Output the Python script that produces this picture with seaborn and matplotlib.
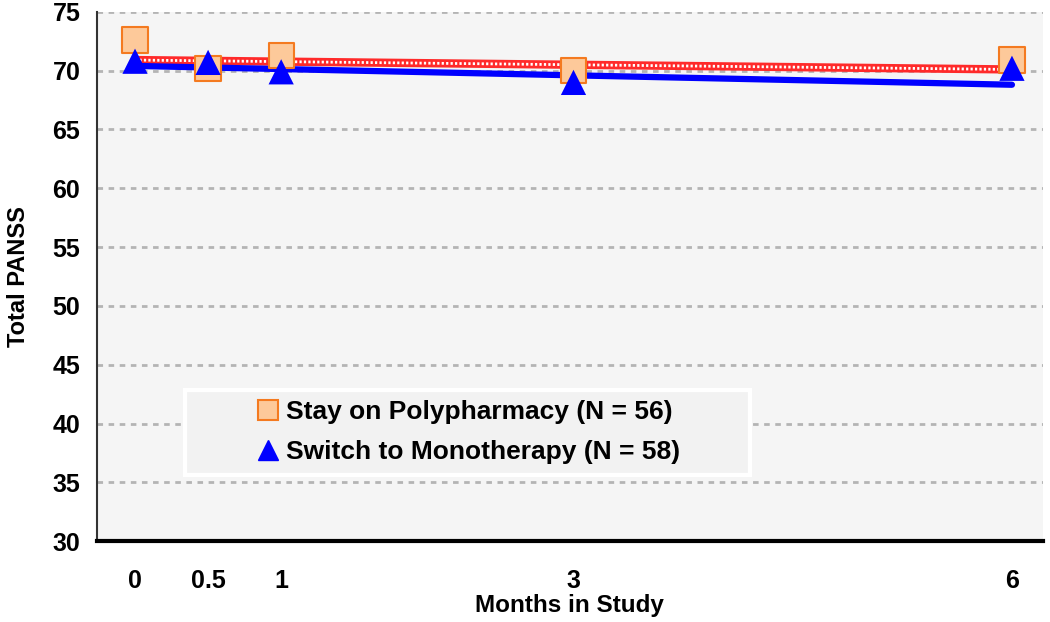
import pandas as pd
import matplotlib.pyplot as plt
from matplotlib.patches import Rectangle
import seaborn as sns

# =============================
# DATA
# =============================
months = [0, 0.5, 1, 3, 6]
poly_panss = [72.6, 70.2, 71.3, 70.0, 70.9]
mono_panss = [70.8, 70.7, 69.9, 69.0, 70.2]

fit_months = [0, 6]
poly_fit = [70.9, 70.1]
mono_fit = [70.4, 68.8]

poly_label = "Stay on Polypharmacy (N = 56)"
mono_label = "Switch to Monotherapy (N = 58)"

df_pts = pd.DataFrame({
    "month": months * 2,
    "panss": poly_panss + mono_panss,
    "group": [poly_label] * len(months) + [mono_label] * len(months),
})
df_poly_fit = pd.DataFrame({"month": fit_months, "panss": poly_fit})
df_mono_fit = pd.DataFrame({"month": fit_months, "panss": mono_fit})

sns.set_style("white")
plt.rcParams["font.family"] = ["Liberation Sans", "DejaVu Sans"]
plt.rcParams["font.weight"] = "bold"
plt.rcParams["text.color"] = "black"
plt.rcParams["axes.labelcolor"] = "black"
plt.rcParams["xtick.color"] = "black"
plt.rcParams["ytick.color"] = "black"

fig = plt.figure(figsize=(10.5, 6.22), dpi=100)
ax = fig.add_axes([0.0924, 0.130, 0.9006, 0.851])
ax.set_facecolor("#f5f5f5")

# gridlines
for y in range(35, 80, 5):
    ax.axhline(y, color="#b4b4b4", lw=2, ls=(0, (2, 2)), zorder=1)

# fit lines
sns.lineplot(data=df_poly_fit, x="month", y="panss", ax=ax, color="#ff2a2a",
             lw=6, zorder=2, legend=False)
sns.lineplot(data=df_poly_fit, x="month", y="panss", ax=ax, color="white",
             lw=2, ls=(0, (0.8, 0.8)), zorder=2.1, legend=False)
sns.lineplot(data=df_mono_fit, x="month", y="panss", ax=ax, color="#0000ff",
             lw=4.5, zorder=2.2, legend=False, solid_capstyle="round")

# markers
sns.scatterplot(data=df_pts, x="month", y="panss", hue="group", style="group",
                palette={poly_label: "#fdc99a", mono_label: "#0000ff"},
                markers={poly_label: "s", mono_label: "^"},
                s=330, ax=ax, zorder=3, legend=False)
# orange outline for squares, no outline for triangles
coll = ax.collections[-1]
edges = ["#f47a20"] * len(months) + ["#0000ff"] * len(months)
coll.set_edgecolors(edges)
coll.set_linewidths([1.5] * len(months) + [0] * len(months))

ax.set_xlim(-0.26, 6.21)
ax.set_ylim(30, 75)
ax.set_xticks(months)
ax.set_xticklabels(["0", "0.5", "1", "3", "6"])
ax.set_yticks(range(30, 80, 5))
ax.tick_params(axis="both", labelsize=18, length=0)
ax.tick_params(axis="x", pad=20)
ax.tick_params(axis="y", pad=12)
for lab in ax.get_xticklabels() + ax.get_yticklabels():
    lab.set_fontweight("bold")

ax.set_xlabel("Months in Study", fontsize=17.5, fontweight="bold", labelpad=1)
ax.set_ylabel("Total PANSS", fontsize=17, fontweight="bold", labelpad=16)

for side in ["top", "right"]:
    ax.spines[side].set_visible(False)
ax.spines["left"].set_color("#333333")
ax.spines["left"].set_linewidth(1.5)
ax.spines["bottom"].set_color("black")
ax.spines["bottom"].set_linewidth(3)

# legend box
ax.add_patch(Rectangle((0.093, 0.125), 0.597, 0.161, transform=ax.transAxes,
                       facecolor="#f2f2f2", edgecolor="white", lw=3, zorder=4))
h1 = plt.Line2D([], [], marker="s", ls="none", markersize=14,
                markerfacecolor="#fdc99a", markeredgecolor="#f47a20", markeredgewidth=1.5)
h2 = plt.Line2D([], [], marker="^", ls="none", markersize=15,
                markerfacecolor="#0000ff", markeredgecolor="#0000ff")
leg = ax.legend([h1, h2], [poly_label, mono_label], loc="center",
                bbox_to_anchor=(0.093 + 0.597 / 2, 0.125 + 0.161 / 2),
                frameon=False, handletextpad=0.2, handlelength=1.0,
                borderpad=0, labelspacing=0.6,
                prop={"weight": "bold", "size": 19})
leg.set_zorder(5)

fig.savefig("out.png", dpi=100)
plt.close(fig)
